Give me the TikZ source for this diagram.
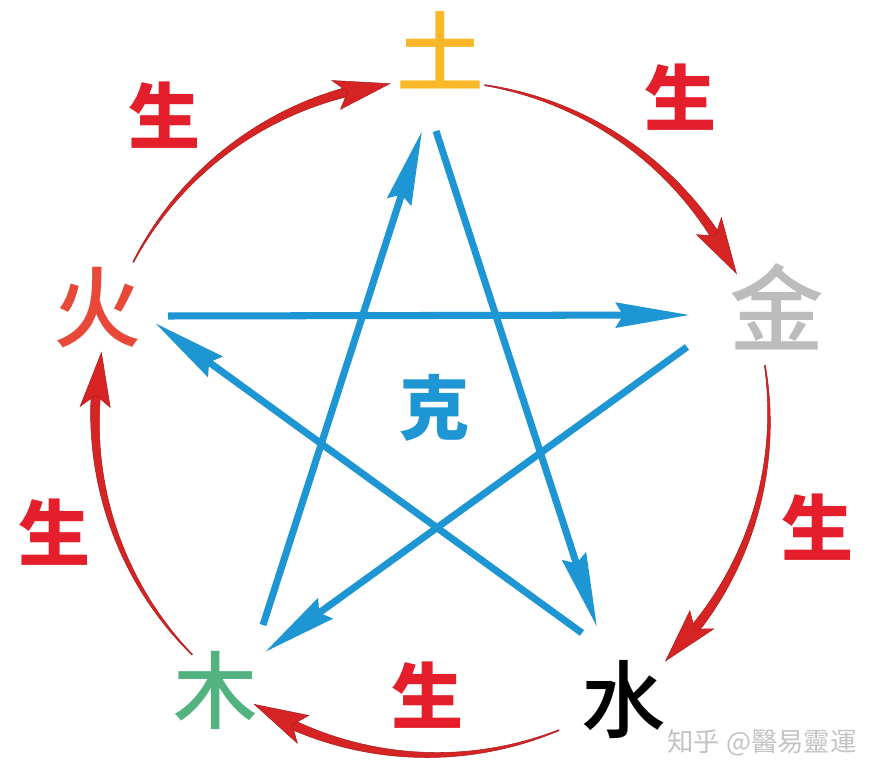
\documentclass[tikz,border=0pt]{standalone}
\usepackage{fontspec}
\newfontfamily\cjk{Noto Sans CJK SC}
\newfontfamily\cjkmed{Noto Sans CJK SC Medium}
\newfontfamily\cjkblack{Noto Sans CJK SC Black}
\usetikzlibrary{arrows.meta}
\definecolor{shengred}{RGB}{214,36,36}
\definecolor{labred}{RGB}{228,30,42}
\definecolor{kblue}{RGB}{30,150,212}
\definecolor{tuorange}{RGB}{250,184,40}
\definecolor{jingrey}{RGB}{188,188,188}
\definecolor{mugreen}{RGB}{82,178,128}
\definecolor{huored}{RGB}{232,72,56}
\definecolor{wmgrey}{RGB}{195,195,195}
\begin{document}
\begin{tikzpicture}[x=0.02cm,y=0.02cm,
  elem/.style={inner sep=0pt, font=\cjkmed\fontsize{50pt}{50pt}\selectfont},
  shenglab/.style={inner sep=0pt, text=labred, font=\cjkblack\fontsize{41pt}{41pt}\selectfont},
  kelab/.style={inner sep=0pt, text=kblue, font=\cjkblack\fontsize{40pt}{40pt}\selectfont},
  kearrow/.style={draw=kblue, line width=4pt, -{Stealth[length=42pt,width=14pt,inset=4pt]}},
  shengfill/.style={fill=shengred, draw=shengred!80!black, line width=0.3pt},
]
\fill[white] (0,0) rectangle (877,779);
\useasboundingbox (0,0) rectangle (877,779);

% elements
\node[elem, text=tuorange] (tu) at (440,729) {土};
\node[elem, text=jingrey, font=\cjkmed\fontsize{54pt}{54pt}\selectfont] (jin) at (777,472) {金};
\node[elem, text=black, font=\cjkmed\fontsize{48pt}{48pt}\selectfont] (shui) at (624,79) {水};
\node[elem, text=mugreen, font=\cjkmed\fontsize{48pt}{48pt}\selectfont] (mu) at (216,89) {木};
\node[elem, text=huored] (huo) at (97,471) {火};
\node[kelab] (ke) at (435,371) {克};

% sheng labels
\node[shenglab] (sh1) at (165,664) {生};
\node[shenglab] (sh2) at (681,682) {生};
\node[shenglab] (sh3) at (818,252) {生};
\node[shenglab] (sh4) at (428,84) {生};
\node[shenglab] (sh5) at (55,247) {生};

% watermark
\node[inner sep=0pt, text=wmgrey, font=\cjk\fontsize{15pt}{15pt}\selectfont] (wm) at (762,36) {知乎 @醫易靈運};

% ke (controlling) star
\coordinate (k1s) at (263,154); \coordinate (k1e) at (422,648);
\coordinate (k2s) at (436,648); \coordinate (k2e) at (597,152);
\coordinate (k3s) at (582,146); \coordinate (k3e) at (155,456);
\coordinate (k4s) at (168,463); \coordinate (k4e) at (690,464);
\coordinate (k5s) at (687,432); \coordinate (k5e) at (265,127);
\draw[kearrow] (k1s) -- (k1e);
\draw[kearrow] (k2s) -- (k2e);
\draw[kearrow] (k3s) -- (k3e);
\draw[kearrow] (k4s) -- (k4e);
\draw[kearrow] (k5s) -- (k5e);

% sheng (generating) cycle
\begin{scope}[shift={(432,361)}]
\foreach \a/\e/\b/\t [count=\i] in {152.45/104.5/106.5/97.2, 81.0/32.7/34.7/25.4, 9.0/-38.8/-36.8/-46.1, -67.9/-114.5/-112.5/-121.8, 224.6/176.1/178.1/168.8}{
  \coordinate (s\i) at (\a:337);
  \coordinate (t\i) at (\t:337);
  \fill[shengfill] plot[domain=\a:\e, samples=50] (\x:{337+0.5+4*(\x-\a)/(\b-\a)})
     -- plot[domain=\e:\a, samples=50] (\x:{337-0.5-4*(\x-\a)/(\b-\a)}) -- cycle;
  \fill[shengfill] (t\i) -- (\b:352) -- (\b-2:337) -- (\b:322) -- cycle;
}
\end{scope}
\end{tikzpicture}
\end{document}
